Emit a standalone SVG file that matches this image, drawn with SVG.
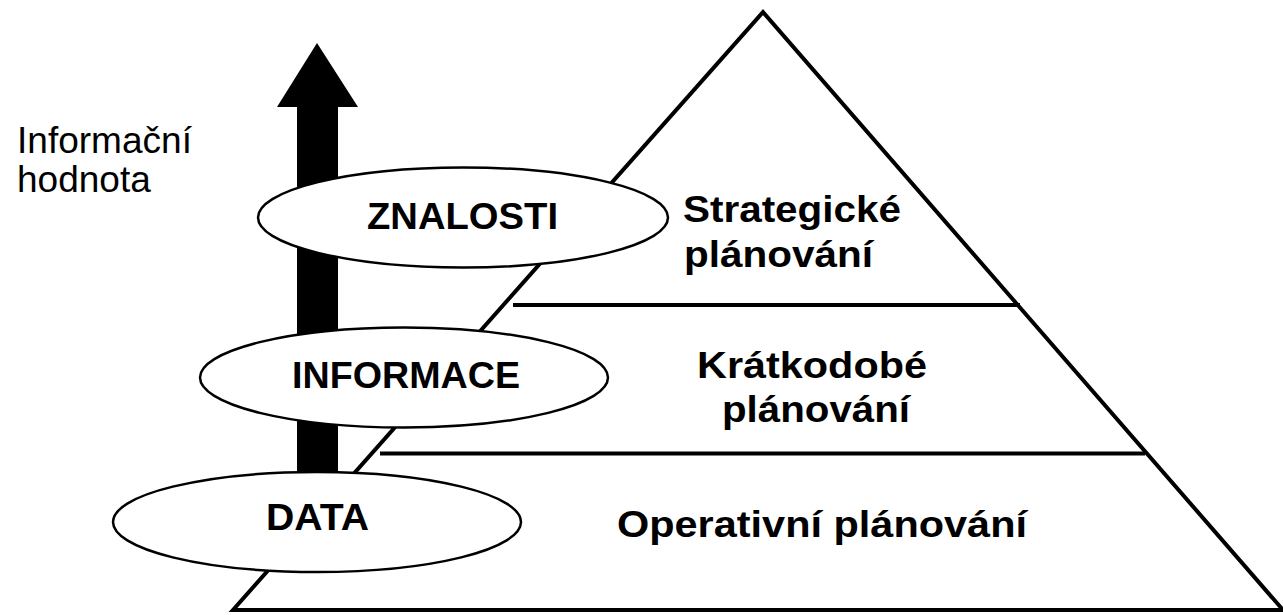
<svg xmlns="http://www.w3.org/2000/svg" width="1283" height="615" viewBox="0 0 1283 615">
<style>
.edge{fill:none;stroke:#000;stroke-width:4;stroke-linecap:butt}
.ell{fill:#fff;stroke:#000;stroke-width:2.5}
.b{font-family:"Liberation Sans",Arial,sans-serif;font-weight:bold;font-size:37px;fill:#000}
.r{font-family:"Liberation Sans",Arial,sans-serif;font-size:37px;fill:#000}
</style>
<rect width="1283" height="615" fill="#fff"/>
<g id="pyramid">
<polygon class="edge" points="763,12 1283,610 233,610"/>
<line class="edge" x1="513" y1="305" x2="1020" y2="305"/>
<line class="edge" x1="380" y1="453.5" x2="1145" y2="453.5"/>
</g>
<g id="connectors">
<polygon points="317,43 358,107 338,107 338,495 297,495 297,107 277,107" fill="#000"/>
</g>
<g id="axis-label">
<text class="r" x="17" y="153" textLength="175" lengthAdjust="spacingAndGlyphs">Informační</text>
<text class="r" x="17" y="192">hodnota</text>
</g>
<g id="znalosti">
<ellipse class="ell" cx="463" cy="217.5" rx="205" ry="50"/>
<text class="b" x="367" y="229" textLength="191" lengthAdjust="spacingAndGlyphs">ZNALOSTI</text>
</g>
<g id="informace">
<ellipse class="ell" cx="404" cy="377.5" rx="204" ry="50"/>
<text class="b" x="292" y="388" textLength="228" lengthAdjust="spacingAndGlyphs">INFORMACE</text>
</g>
<g id="data">
<ellipse class="ell" cx="317" cy="522" rx="204" ry="50"/>
<text class="b" x="266" y="530" textLength="103" lengthAdjust="spacingAndGlyphs">DATA</text>
</g>
<g id="strategicke">
<text class="b" x="683" y="222" textLength="218" lengthAdjust="spacingAndGlyphs">Strategické</text>
<text class="b" x="684" y="267" textLength="189" lengthAdjust="spacingAndGlyphs">plánování</text>
</g>
<g id="kratkodobe">
<text class="b" x="697" y="378" textLength="230" lengthAdjust="spacingAndGlyphs">Krátkodobé</text>
<text class="b" x="722" y="422" textLength="188" lengthAdjust="spacingAndGlyphs">plánování</text>
</g>
<g id="operativni">
<text class="b" x="617" y="537" textLength="410" lengthAdjust="spacingAndGlyphs">Operativní plánování</text>
</g>
</svg>
